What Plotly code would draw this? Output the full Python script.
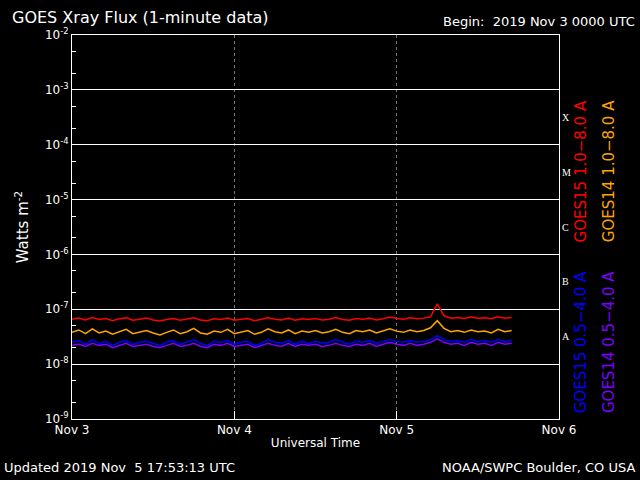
import plotly.graph_objects as go
import pandas as pd

# hourly readings from 2019-11-03 00:00 UTC, in units of 1e-8 W/m^2
hours = list(range(66))
goes15_long = [6.6, 6.9, 6.4, 7.1, 6.5, 6.8, 6.2, 6.7, 7.0, 6.3, 6.6, 6.9,
               6.4, 6.1, 6.5, 6.8, 6.3, 6.6, 7.0, 6.4, 6.2, 6.7, 6.5, 6.9,
               6.3, 6.6, 6.8, 6.2, 6.5, 7.0, 6.6, 6.4, 6.9, 6.3, 6.7, 6.5,
               6.8, 6.4, 6.6, 7.1, 6.5, 6.3, 6.8, 6.6, 6.9, 6.4, 6.7, 7.2,
               6.8, 6.6, 7.0, 6.7, 6.9, 7.3, 12.5, 7.6, 6.9, 7.1, 6.8, 7.2,
               6.9, 7.0, 6.7, 7.3, 6.9, 7.1]
goes14_long = [3.8, 4.2, 3.6, 4.4, 3.7, 4.0, 3.5, 3.9, 4.3, 3.6, 3.8, 4.1,
               3.7, 3.4, 3.8, 4.2, 3.6, 3.9, 4.5, 3.7, 3.5, 4.0, 3.8, 4.3,
               3.6, 3.9, 4.1, 3.5, 3.8, 4.4, 3.9, 3.7, 4.2, 3.6, 4.0, 3.8,
               4.1, 3.7, 3.9, 4.3, 3.8, 3.6, 4.1, 3.9, 4.2, 3.7, 4.0, 4.4,
               4.0, 3.8, 4.2, 3.9, 4.1, 4.6, 6.2, 4.5, 3.9, 4.1, 3.8, 4.2,
               3.9, 4.0, 3.7, 4.3, 3.9, 4.1]
goes15_short = [2.5, 2.7, 2.3, 2.8, 2.4, 2.6, 2.2, 2.5, 2.7, 2.3, 2.5, 2.6,
                2.4, 2.2, 2.5, 2.7, 2.3, 2.5, 2.8, 2.4, 2.2, 2.6, 2.5, 2.7,
                2.3, 2.5, 2.6, 2.2, 2.4, 2.8, 2.5, 2.4, 2.7, 2.3, 2.6, 2.4,
                2.6, 2.4, 2.5, 2.8, 2.5, 2.3, 2.6, 2.5, 2.7, 2.4, 2.6, 2.8,
                2.6, 2.5, 2.7, 2.5, 2.6, 2.8, 3.3, 2.8, 2.6, 2.7, 2.5, 2.8,
                2.6, 2.7, 2.5, 2.8, 2.6, 2.7]
goes14_short = [2.2, 2.3, 2.1, 2.4, 2.2, 2.3, 2.0, 2.2, 2.4, 2.1, 2.2, 2.3,
                2.1, 2.0, 2.2, 2.4, 2.1, 2.2, 2.4, 2.1, 2.0, 2.3, 2.2, 2.4,
                2.1, 2.2, 2.3, 2.0, 2.2, 2.4, 2.2, 2.1, 2.4, 2.1, 2.3, 2.2,
                2.3, 2.1, 2.2, 2.4, 2.2, 2.1, 2.3, 2.2, 2.4, 2.1, 2.3, 2.5,
                2.3, 2.2, 2.4, 2.2, 2.3, 2.5, 2.9, 2.5, 2.3, 2.4, 2.2, 2.5,
                2.3, 2.4, 2.2, 2.5, 2.3, 2.4]

times = pd.Timestamp("2019-11-03") + pd.to_timedelta(hours, unit="h")
FONT = "DejaVu Sans"

fig = go.Figure()
for vals, col in [(goes14_short, "#7f00ff"), (goes15_short, "#0000ff"),
                  (goes14_long, "#ffa500"), (goes15_long, "#ff0000")]:
    fig.add_trace(go.Scatter(x=times, y=[v * 1e-8 for v in vals], mode="lines",
                             line=dict(color=col, width=1.5), showlegend=False))

decades = list(range(-9, -1))
fig.update_layout(
    width=640, height=480, paper_bgcolor="black", plot_bgcolor="black",
    margin=dict(l=72, r=81, t=35, b=61),
    font=dict(family=FONT, color="white", size=12),
    xaxis=dict(range=["2019-11-03", "2019-11-06"], showline=True, linecolor="white",
               mirror=True, ticks="inside", tickcolor="white", ticklen=8,
               tickvals=["2019-11-03", "2019-11-04", "2019-11-05", "2019-11-06"],
               ticktext=["Nov 3", "Nov 4", "Nov 5", "Nov 6"],
               showgrid=True, gridcolor="#777", griddash="dot", gridwidth=1,
               title=dict(text="Universal Time", standoff=2, font=dict(size=12))),
    yaxis=dict(type="log", range=[-9, -2], showline=True, linecolor="white",
               mirror=True, ticks="inside", tickcolor="white", ticklen=8,
               tickvals=[10 ** d for d in decades],
               ticktext=["10<sup>%d</sup>" % d for d in decades],
               showgrid=True, gridcolor="white", gridwidth=1,
               minor=dict(ticks="inside", ticklen=4, tickcolor="white", showgrid=False),
               title=dict(text="Watts m<sup>-2</sup>", standoff=12, font=dict(size=15))),
)

for lab, yv in zip(["A", "B", "C", "M", "X"], [-7.5, -6.5, -5.5, -4.5, -3.5]):
    fig.add_annotation(x=1.003, xref="paper", y=yv, yref="y", text=lab, showarrow=False,
                       xanchor="left", font=dict(size=10, family="Liberation Serif"))

side = [("GOES15 1.0−8.0 A", "#ff0000", 0.068, 0.455),
        ("GOES14 1.0−8.0 A", "#ffa500", 0.125, 0.455),
        ("GOES15 0.5−4.0 A", "#0000ff", 0.068, 0.01),
        ("GOES14 0.5−4.0 A", "#7f00ff", 0.125, 0.01)]
for txt, col, dx, yb in side:
    fig.add_annotation(x=1 + dx, xref="paper", y=yb, yref="paper", text=txt,
                       textangle=-90, showarrow=False, yanchor="bottom",
                       font=dict(color=col, size=15))

fig.add_annotation(x=-0.127, xref="paper", y=1.046, yref="paper", text="GOES Xray Flux (1-minute data)",
                   showarrow=False, xanchor="left", yanchor="middle", font=dict(size=16))
fig.add_annotation(x=1.16, xref="paper", y=1.035, yref="paper", text="Begin:  2019 Nov 3 0000 UTC",
                   showarrow=False, xanchor="right", yanchor="middle", font=dict(size=13))
fig.add_annotation(x=-0.143, xref="paper", y=-0.125, yref="paper", text="Updated 2019 Nov  5 17:53:13 UTC",
                   showarrow=False, xanchor="left", yanchor="middle", font=dict(size=13))
fig.add_annotation(x=1.16, xref="paper", y=-0.125, yref="paper", text="NOAA/SWPC Boulder, CO USA",
                   showarrow=False, xanchor="right", yanchor="middle", font=dict(size=13))

fig.write_html("out.html", config={"displayModeBar": False},
               post_script="document.body.style.margin='0';")
